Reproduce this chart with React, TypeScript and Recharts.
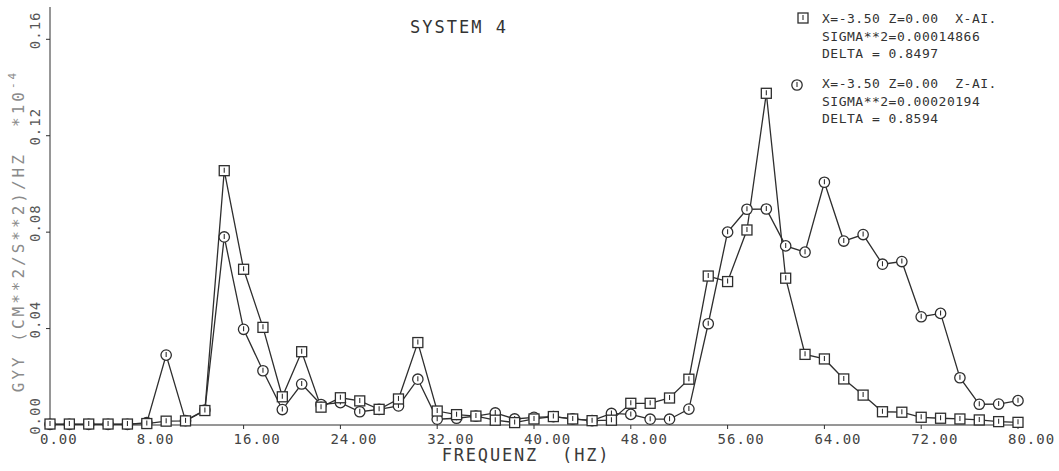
import { LineChart, Line, XAxis, YAxis } from "recharts";

// frequency grid (Hz)
const FREQ = [
  0, 1.6, 3.2, 4.8, 6.4, 8, 9.6, 11.2, 12.8, 14.4,
  16, 17.6, 19.2, 20.8, 22.4, 24, 25.6, 27.2, 28.8, 30.4,
  32, 33.6, 35.2, 36.8, 38.4, 40, 41.6, 43.2, 44.8, 46.4,
  48, 49.6, 51.2, 52.8, 54.4, 56, 57.6, 59.2, 60.8, 62.4,
  64, 65.6, 67.2, 68.8, 70.4, 72, 73.6, 75.2, 76.8, 78.4,
  80,
];

// X-AI. series (square symbols)
const GYY_X = [
  0.0004, 0.0004, 0.0004, 0.0004, 0.0004, 0.0006, 0.0016, 0.0017, 0.006, 0.1055,
  0.0646, 0.0405, 0.0117, 0.0304, 0.0074, 0.0113, 0.01, 0.0065, 0.0108, 0.0342,
  0.0058, 0.0043, 0.0037, 0.002, 0.001, 0.0025, 0.0035, 0.0025, 0.0018, 0.002,
  0.009, 0.009, 0.0112, 0.019, 0.0618, 0.0595, 0.0809, 0.1376, 0.0609, 0.0293,
  0.0274, 0.0191, 0.0124, 0.0055, 0.0053, 0.0032, 0.0028, 0.0025, 0.0021, 0.0014,
  0.0011,
];

// Z-AI. series (circle symbols)
const GYY_Z = [
  0.0003, 0.0003, 0.0003, 0.0003, 0.0003, 0.001, 0.029, 0.0018, 0.0062, 0.078,
  0.0397, 0.0225, 0.0064, 0.017, 0.0085, 0.0093, 0.0055, 0.0065, 0.0079, 0.019,
  0.0024, 0.0028, 0.0037, 0.005, 0.0025, 0.0032, 0.0035, 0.0025, 0.0018, 0.0048,
  0.0044, 0.0024, 0.0024, 0.0066, 0.042, 0.08, 0.0895, 0.0896, 0.0743, 0.0717,
  0.1007, 0.0763, 0.079, 0.0667, 0.0678, 0.0449, 0.0463, 0.0196, 0.0086, 0.0087,
  0.0101,
];

const X_TICKS = [0, 8, 16, 24, 32, 40, 48, 56, 64, 72, 80];
const Y_TICKS = [0, 0.04, 0.08, 0.12, 0.16];

const LEGEND_X = ["X=-3.50 Z=0.00  X-AI.", "SIGMA**2=0.00014866", "DELTA = 0.8497"];
const LEGEND_Z = ["X=-3.50 Z=0.00  Z-AI.", "SIGMA**2=0.00020194", "DELTA = 0.8594"];

const INK = "#2e2e2e";
const MONO = "'DejaVu Sans Mono', monospace";

const data = FREQ.map((f, i) => ({ f, x: GYY_X[i], z: GYY_Z[i] }));

function SquareMark({ cx, cy }: any) {
  if (cx == null || cy == null) return null;
  return (
    <g>
      <rect x={cx - 5} y={cy - 5} width={10} height={10} fill="#fff" stroke={INK} strokeWidth={1.3} />
      <line x1={cx} y1={cy - 3} x2={cx} y2={cy + 2} stroke={INK} strokeWidth={1.1} />
    </g>
  );
}

function CircleMark({ cx, cy }: any) {
  if (cx == null || cy == null) return null;
  return (
    <g>
      <circle cx={cx} cy={cy} r={5.2} fill="#fff" stroke={INK} strokeWidth={1.3} />
      <line x1={cx} y1={cy - 3} x2={cx} y2={cy + 2} stroke={INK} strokeWidth={1.1} />
    </g>
  );
}

function XTick({ x, y, payload }: any) {
  return (
    <text x={x - 10} y={y + 13} textAnchor="start" fontFamily={MONO} fontSize={14} letterSpacing={1} fill="#444">
      {payload.value.toFixed(2)}
    </text>
  );
}

function YTick({ x, y, payload }: any) {
  const cx = x - 9;
  const cy = y - 9;
  return (
    <text
      x={cx}
      y={cy}
      transform={`rotate(-90, ${cx}, ${cy})`}
      textAnchor="middle"
      dominantBaseline="central"
      fontFamily={MONO}
      fontSize={14}
      letterSpacing={1}
      fill="#555"
    >
      {payload.value.toFixed(2)}
    </text>
  );
}

function YTitle() {
  return (
    <text
      x={18}
      y={231}
      transform="rotate(-90, 18, 231)"
      textAnchor="middle"
      dominantBaseline="central"
      fontFamily={MONO}
      fontSize={16}
      letterSpacing={3}
      fill="#8a8a8a"
      style={{ whiteSpace: "pre" }}
    >
      GYY (CM**2/S**2)/HZ  *10<tspan dy={-6} fontSize={11}>-4</tspan>
    </text>
  );
}

function XTitle() {
  return (
    <text
      x={526}
      y={461}
      textAnchor="middle"
      fontFamily={MONO}
      fontSize={17}
      letterSpacing={1.8}
      fill="#3a3a3a"
      style={{ whiteSpace: "pre" }}
    >
      FREQUENZ  (HZ)
    </text>
  );
}

export default function App() {
  return (
    <div style={{ position: "absolute", left: 0, top: 0, width: 1059, height: 471, background: "#fff" }}>
      <LineChart width={1059} height={471} data={data} margin={{ top: 7, right: 41, bottom: 0, left: 0 }}>
        <XAxis
          dataKey="f"
          type="number"
          domain={[0, 80]}
          ticks={X_TICKS}
          height={46}
          stroke={INK}
          tickSize={4}
          tickMargin={2}
          tick={<XTick />}
          label={<XTitle />}
        />
        <YAxis
          type="number"
          domain={[0, 0.1734]}
          ticks={Y_TICKS}
          width={50}
          stroke={INK}
          tickSize={4}
          tickMargin={2}
          tick={<YTick />}
          label={<YTitle />}
        />
        <Line
          type="linear"
          dataKey="z"
          stroke={INK}
          strokeWidth={1.3}
          dot={<CircleMark />}
          isAnimationActive={false}
        />
        <Line
          type="linear"
          dataKey="x"
          stroke={INK}
          strokeWidth={1.3}
          dot={<SquareMark />}
          isAnimationActive={false}
        />
      </LineChart>
      <svg
        width={1059}
        height={471}
        style={{ position: "absolute", left: 0, top: 0, pointerEvents: "none" }}
      >
        <text x={410} y={33} fontFamily={MONO} fontSize={17} letterSpacing={2} fill="#333">
          SYSTEM 4
        </text>
        <SquareMark cx={803} cy={18} />
        {LEGEND_X.map((t, i) => (
          <text key={t} x={822} y={23 + i * 17.5} fontFamily={MONO} fontSize={13} letterSpacing={0.5} fill="#333" style={{ whiteSpace: "pre" }}>
            {t}
          </text>
        ))}
        <CircleMark cx={797} cy={85} />
        {LEGEND_Z.map((t, i) => (
          <text key={t} x={822} y={88 + i * 17.5} fontFamily={MONO} fontSize={13} letterSpacing={0.5} fill="#333" style={{ whiteSpace: "pre" }}>
            {t}
          </text>
        ))}
      </svg>
    </div>
  );
}
